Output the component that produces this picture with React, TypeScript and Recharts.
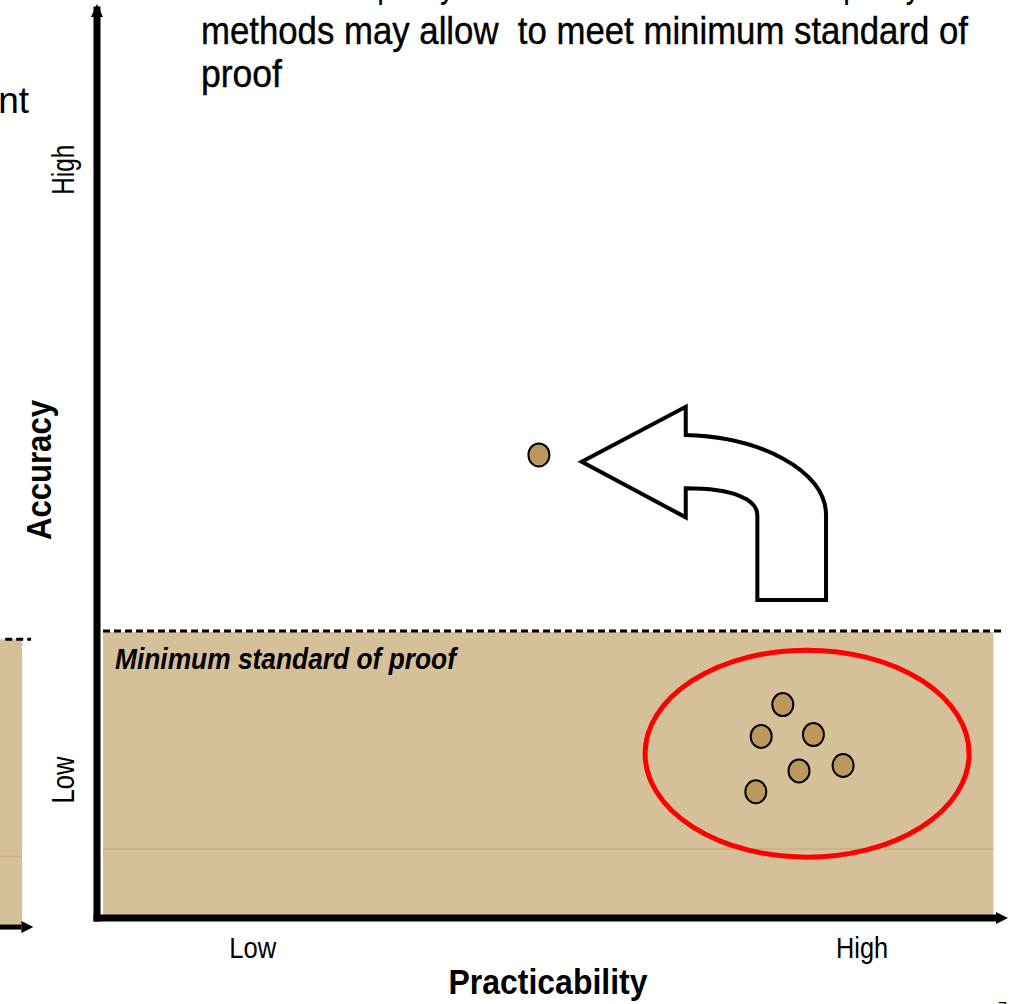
import React from "react";
import {
  ScatterChart,
  Scatter,
  XAxis,
  YAxis,
  ReferenceArea,
  ReferenceLine,
  ReferenceDot,
} from "recharts";

// axis ticks (positions on a 0..100 scale)
const xTickValues = [17.3, 85];
const xTickLabels = ["Low", "High"];
const yTickValues = [15.2, 82.4];
const yTickLabels = ["Low", "High"];

// cluster of low accuracy / high practicability methods
const clusterX = [76.2, 73.8, 79.6, 78.0, 82.9, 73.2];
const clusterY = [23.5, 20.0, 20.2, 16.2, 16.8, 13.9];

// combined method point
const combinedX = [49.1];
const combinedY = [51.0];

// minimum standard of proof band
const minStandardY = 31.6;
const bandX = [0.67, 99.6];
const bandY = [0.33, 31.5];
const bandStreakY = 7.6;

// red ellipse around cluster: center and radii, in axis units
const ellipseCenter = [78.9, 18.1];
const ellipseRadii = [18, 11.4];

// curved arrow tip
const arrowTip = [53.86, 50.25];

// neighbouring slide remnants on the left edge
const ghostX = [-10.78, -8.33];
const ghostY = [-0.77, 30.7];

const W = 1014;
const H = 1004;
const margin = { top: 10, right: 17, bottom: 26, left: 57 };
const yAxisWidth = 40;
const xAxisHeight = 60;
const plotW = W - margin.left - margin.right - yAxisWidth;
const plotH = H - margin.top - margin.bottom - xAxisHeight;
const pxX = plotW / 100;
const pxY = plotH / 100;

const TAN = "#D5C09A";
const DOT = "#BC985C";
const NARROW = '"Liberation Sans Narrow", "Arial Narrow", "Liberation Sans", Arial, sans-serif';
const SANS = '"Liberation Sans", Arial, sans-serif';

const clusterData = clusterX.map((x, i) => ({ x, y: clusterY[i] }));
const combinedData = combinedX.map((x, i) => ({ x, y: combinedY[i] }));

const Dot = (props: any) => (
  <ellipse cx={props.cx} cy={props.cy} rx={10.5} ry={11.5} fill={DOT} stroke="#000" strokeWidth={2} />
);

const XTick = (props: any) => {
  const i = xTickValues.indexOf(props.payload.value);
  const label = xTickLabels[i];
  return (
    <text
      x={props.x}
      y={props.y + 40}
      textAnchor="middle"
      fontFamily={NARROW}
      fontSize={30}
      fill="#000"
      textLength={label === "Low" ? 47 : 52}
      lengthAdjust="spacingAndGlyphs"
    >
      {label}
    </text>
  );
};

const YTick = (props: any) => {
  const i = yTickValues.indexOf(props.payload.value);
  const label = yTickLabels[i];
  const x = props.x - 23;
  return (
    <text
      x={x}
      y={props.y}
      transform={`rotate(-90 ${x} ${props.y})`}
      textAnchor="middle"
      fontFamily={NARROW}
      fontSize={31}
      fill="#000"
      textLength={label === "Low" ? 47 : 50}
      lengthAdjust="spacingAndGlyphs"
    >
      {label}
    </text>
  );
};

const CurvedArrow = (props: any) => {
  const { cx, cy } = props;
  const d = [
    "M 0 0",
    "L 104 -55",
    "L 104 -26.7",
    "C 178 -24.7 244.3 8.3 244.3 53.3",
    "L 244.3 138.3",
    "L 175.6 138.3",
    "L 175.6 53.3",
    "C 175.6 38.3 153.3 26.6 104 26.6",
    "L 104 55.6",
    "Z",
  ].join(" ");
  return (
    <path
      d={d}
      transform={`translate(${cx} ${cy})`}
      fill="#fff"
      stroke="#000"
      strokeWidth={4}
      strokeLinejoin="miter"
    />
  );
};

const RedEllipse = (props: any) => (
  <ellipse
    cx={props.cx}
    cy={props.cy}
    rx={ellipseRadii[0] * pxX}
    ry={ellipseRadii[1] * pxY}
    fill="none"
    stroke="#FF0000"
    strokeWidth={5}
  />
);

const XArrowHead = (props: any) => (
  <polygon
    points={`${props.cx - 1},${props.cy - 6} ${props.cx + 11},${props.cy} ${props.cx - 1},${props.cy + 6}`}
    fill="#000"
  />
);

const YArrowHead = (props: any) => (
  <polygon
    points={`${props.cx - 6},${props.cy + 7} ${props.cx},${props.cy - 6} ${props.cx + 6},${props.cy + 7}`}
    fill="#000"
  />
);

const GhostArrowHead = (props: any) => (
  <polygon
    points={`${props.cx},${props.cy - 6} ${props.cx + 12},${props.cy} ${props.cx},${props.cy + 6}`}
    fill="#000"
  />
);

const XLabel = (props: any) => {
  const vb = props.viewBox;
  return (
    <text
      x={vb.x + vb.width / 2 + 1}
      y={vb.y + 76}
      textAnchor="middle"
      fontFamily={NARROW}
      fontWeight="bold"
      fontSize={35}
      fill="#000"
      textLength={199}
      lengthAdjust="spacingAndGlyphs"
    >
      Practicability
    </text>
  );
};

const YLabel = (props: any) => {
  const vb = props.viewBox;
  const x = 51;
  const y = vb.y + vb.height / 2 + 6;
  return (
    <text
      x={x}
      y={y}
      transform={`rotate(-90 ${x} ${y})`}
      textAnchor="middle"
      fontFamily={NARROW}
      fontWeight="bold"
      fontSize={35}
      fill="#000"
      textLength={140}
      lengthAdjust="spacingAndGlyphs"
    >
      Accuracy
    </text>
  );
};

export default function App() {
  return (
    <div style={{ position: "absolute", left: 0, top: 0, width: W, height: H, background: "#fff" }}>
      <ScatterChart width={W} height={H} margin={margin}>
        <XAxis
          type="number"
          dataKey="x"
          domain={[0, 100]}
          ticks={xTickValues}
          tick={<XTick />}
          tickSize={0}
          tickMargin={0}
          tickLine={false}
          height={xAxisHeight}
          axisLine={{ stroke: "#000", strokeWidth: 7, strokeLinecap: "square" }}
          label={<XLabel />}
          allowDataOverflow
        />
        <YAxis
          type="number"
          dataKey="y"
          domain={[0, 100]}
          ticks={yTickValues}
          tick={<YTick />}
          tickSize={0}
          tickMargin={0}
          tickLine={false}
          width={yAxisWidth}
          axisLine={{ stroke: "#000", strokeWidth: 7, strokeLinecap: "square" }}
          label={<YLabel />}
          allowDataOverflow
        />

        {/* left edge remnants */}
        <ReferenceArea
          x1={ghostX[0]}
          x2={ghostX[1]}
          y1={ghostY[0]}
          y2={ghostY[1]}
          fill={TAN}
          fillOpacity={1}
          stroke="none"
          ifOverflow="visible"
        />
        <ReferenceLine
          segment={[{ x: ghostX[0], y: 6.8 }, { x: ghostX[1], y: 6.8 }]}
          stroke="#C3A56F"
          strokeWidth={1}
          ifOverflow="visible"
        />
        <ReferenceLine
          segment={[{ x: -10.2, y: ghostY[1] }, { x: -7.33, y: ghostY[1] }]}
          stroke="#000"
          strokeWidth={3}
          strokeDasharray="7 4"
          ifOverflow="visible"
        />
        <ReferenceLine
          segment={[{ x: -11, y: -1 }, { x: -8.4, y: -1 }]}
          stroke="#000"
          strokeWidth={5}
          ifOverflow="visible"
        />
        <ReferenceDot x={-8.4} y={-1} r={0} ifOverflow="visible" shape={<GhostArrowHead />} />

        {/* minimum standard band */}
        <ReferenceArea
          x1={bandX[0]}
          x2={bandX[1]}
          y1={bandY[0]}
          y2={bandY[1]}
          fill={TAN}
          fillOpacity={1}
          stroke="none"
          ifOverflow="visible"
        />
        <ReferenceLine
          segment={[{ x: bandX[0], y: bandStreakY }, { x: bandX[1], y: bandStreakY }]}
          stroke="#C3A56F"
          strokeWidth={1}
          ifOverflow="visible"
        />
        <ReferenceLine
          segment={[{ x: bandX[0], y: minStandardY }, { x: 100.7, y: minStandardY }]}
          stroke="#000"
          strokeWidth={3}
          strokeDasharray="7 4"
          ifOverflow="visible"
          label={{
            value: "Minimum standard of proof",
            position: "insideBottomLeft",
            content: (p: any) => (
              <text
                x={115}
                y={669}
                fontFamily={NARROW}
                fontWeight="bold"
                fontStyle="italic"
                fontSize={30}
                fill="#000"
                textLength={341}
                lengthAdjust="spacingAndGlyphs"
              >
                Minimum standard of proof
              </text>
            ),
          }}
        />

        <ReferenceDot
          x={ellipseCenter[0]}
          y={ellipseCenter[1]}
          r={0}
          ifOverflow="visible"
          shape={<RedEllipse />}
        />
        <ReferenceDot x={arrowTip[0]} y={arrowTip[1]} r={0} ifOverflow="visible" shape={<CurvedArrow />} />

        <ReferenceDot x={100} y={0} r={0} ifOverflow="visible" shape={<XArrowHead />} />
        <ReferenceDot x={0} y={100} r={0} ifOverflow="visible" shape={<YArrowHead />} />

        <Scatter data={clusterData} shape={<Dot />} isAnimationActive={false} />
        <Scatter data={combinedData} shape={<Dot />} isAnimationActive={false} />
      </ScatterChart>

      <svg
        width={W}
        height={H}
        style={{ position: "absolute", left: 0, top: 0, pointerEvents: "none" }}
      >
        <text x={201} y={-3} fontFamily={NARROW} fontSize={38} fill="#000" textLength={720} lengthAdjust="spacingAndGlyphs">
          Several low quality tests or even more modest quality
        </text>
        <text x={201} y={44} fontFamily={NARROW} fontSize={38} fill="#000" stroke="#000" strokeWidth={0.4} textLength={767} lengthAdjust="spacingAndGlyphs" xmlSpace="preserve">
          methods may allow  to meet minimum standard of
        </text>
        <text x={201} y={87} fontFamily={NARROW} fontSize={38} fill="#000" stroke="#000" strokeWidth={0.4} textLength={81} lengthAdjust="spacingAndGlyphs">
          proof
        </text>
        <text x={29} y={113} textAnchor="end" fontFamily={SANS} fontSize={37} fill="#000">
          nt
        </text>
        <text x={998} y={1014} fontFamily={SANS} fontSize={16} fill="#000">
          7
        </text>
      </svg>
    </div>
  );
}
